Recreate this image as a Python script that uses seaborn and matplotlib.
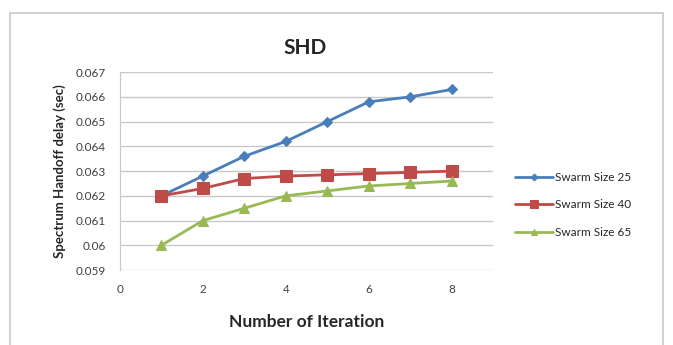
import matplotlib
matplotlib.use("Agg")
import matplotlib.pyplot as plt
import seaborn as sns
import pandas as pd
from matplotlib.patches import Rectangle

iterations = [1, 2, 3, 4, 5, 6, 7, 8]
swarm_25 = [0.0620, 0.0628, 0.0636, 0.0642, 0.0650, 0.0658, 0.0660, 0.0663]
swarm_40 = [0.0620, 0.0623, 0.0627, 0.0628, 0.06285, 0.0629, 0.06295, 0.0630]
swarm_65 = [0.0600, 0.0610, 0.0615, 0.0620, 0.0622, 0.0624, 0.0625, 0.0626]
series_names = ["Swarm Size 25", "Swarm Size 40", "Swarm Size 65"]
y_ticks = [0.059, 0.06, 0.061, 0.062, 0.063, 0.064, 0.065, 0.066, 0.067]
y_tick_labels = ["0.059", "0.06", "0.061", "0.062", "0.063", "0.064", "0.065", "0.066", "0.067"]
x_ticks = [0, 2, 4, 6, 8]

df = pd.DataFrame({
    "Iteration": iterations * 3,
    "Delay": swarm_25 + swarm_40 + swarm_65,
    "Series": [series_names[0]] * 8 + [series_names[1]] * 8 + [series_names[2]] * 8,
})

sns.set_style("white")
plt.rcParams["font.family"] = ["Lato", "DejaVu Sans"]

palette = {series_names[0]: "#4a7ebb", series_names[1]: "#be4b48", series_names[2]: "#98b954"}
markers = {series_names[0]: "D", series_names[1]: "s", series_names[2]: "^"}
sizes = {series_names[0]: 5, series_names[1]: 8, series_names[2]: 7}

fig = plt.figure(figsize=(6.73, 3.45), dpi=100)
ax = fig.add_axes([0.178, 0.217, 0.555, 0.574])

# chart frame
fig.patches.append(Rectangle((10 / 673, -0.05), 653 / 673, 1 - 13 / 345 + 0.05,
                             transform=fig.transFigure, fill=False,
                             edgecolor="#c8c8c8", linewidth=1.2, zorder=0))

for name in series_names:
    sub = df[df["Series"] == name]
    sns.lineplot(data=sub, x="Iteration", y="Delay", ax=ax, color=palette[name],
                 marker=markers[name], markersize=sizes[name], linewidth=2,
                 markeredgecolor=palette[name], label=name)

ax.set_xlim(0, 9)
ax.set_ylim(0.059, 0.067)
ax.set_xticks(x_ticks)
ax.set_xticklabels([str(t) for t in x_ticks], fontsize=8.5, color="#404040")
ax.set_yticks(y_ticks)
ax.set_yticklabels(y_tick_labels, fontsize=8.5, color="#404040")
ax.tick_params(axis="both", length=0, pad=10)
ax.grid(axis="y", color="#c8c8c8", linewidth=1)
ax.grid(axis="x", visible=False)
for side in ["top", "right", "bottom"]:
    ax.spines[side].set_visible(False)
ax.spines["left"].set_color("#c8c8c8")

ax.set_xlabel("Number of Iteration", fontsize=12.5, fontweight="bold", labelpad=14)
ax.set_ylabel("Spectrum Handoff delay (sec)", fontsize=9.5, fontweight="bold", labelpad=7)
fig.text(0.453, 0.862, "SHD", ha="center", va="center", fontsize=15, fontweight="bold")

leg = ax.legend(loc="center left", bbox_to_anchor=(1.03, 0.33), frameon=False,
                fontsize=8.5, handlelength=3.2, handletextpad=0.2, labelspacing=1.4,
                markerscale=0.7)

fig.savefig("out.png", dpi=100)
